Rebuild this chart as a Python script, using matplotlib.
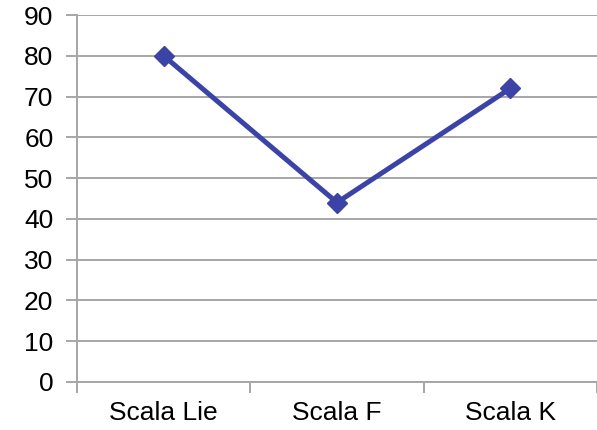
import matplotlib.pyplot as plt

categories = ['Scala Lie', 'Scala F', 'Scala K']
values = [80, 44, 72]
y_ticks = list(range(0, 100, 10))

plt.rcParams['font.family'] = ['Liberation Sans', 'DejaVu Sans']

fig = plt.figure(figsize=(5.97, 4.30), dpi=100)
ax = fig.add_axes([0.129, 0.112, 0.871, 0.853])

x = list(range(len(categories)))
ax.plot(x, values, color='#3b44a6', linewidth=3.6, marker='D', markersize=10.5,
        markerfacecolor='#3b44a6', markeredgecolor='#3b44a6', zorder=3)

ax.set_xlim(-0.5, len(categories) - 0.5)
ax.set_ylim(0, 90)
ax.set_yticks(y_ticks)
ax.grid(axis='y', color='#a6a6a6', linewidth=1.4)
ax.set_axisbelow(True)

# category labels centred, ticks on the boundaries
ax.set_xticks(x)
ax.set_xticklabels(categories)
ax.tick_params(axis='x', length=0, labelsize=19, pad=14)
ax.set_xticks([i - 0.5 for i in range(len(categories) + 1)], minor=True)
ax.tick_params(axis='x', which='minor', length=8, width=1.4, color='#a6a6a6', direction='out')
ax.tick_params(axis='y', length=8, width=1.4, color='#a6a6a6', labelsize=19, pad=9)

for side in ['top', 'right']:
    ax.spines[side].set_visible(False)
for side in ['left', 'bottom']:
    ax.spines[side].set_color('#a6a6a6')
    ax.spines[side].set_linewidth(1.4)

fig.savefig('out.png', dpi=100)
